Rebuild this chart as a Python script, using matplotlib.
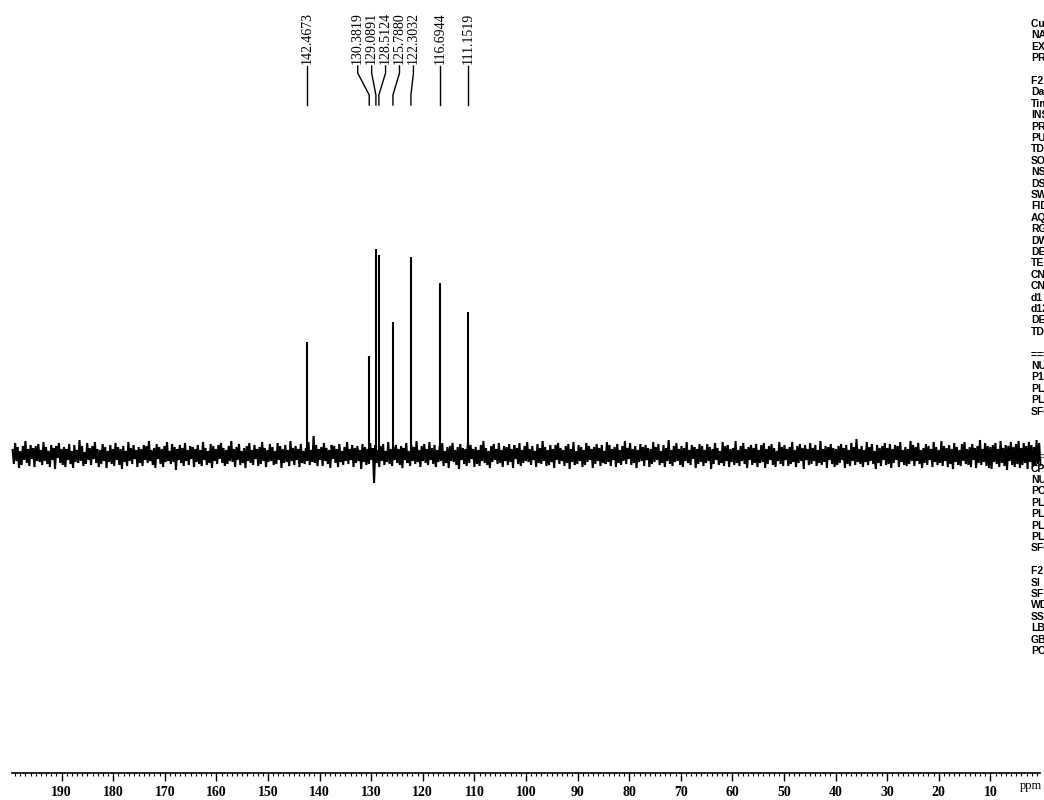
import numpy as np
import matplotlib
matplotlib.use("Agg")
import matplotlib.pyplot as plt
from matplotlib.ticker import FixedLocator

# 13C NMR peaks (ppm) and their heights (intensity units)
peak_ppm = [142.4673, 130.3819, 129.0891, 128.5124, 125.7880, 122.3032, 116.6944, 111.1519]
peak_height = [113, 99, 206, 200, 133, 198, 172, 143]

# baseline noise of the spectrum, sampled evenly from 199.5 to 0.3 ppm
noise = [
    5, -9, 12, -6, 8, -13, 4, -10, 9, -5, 14, -8, 6, -11, 10, -4, 7, -12, 9, -6,
    11, -7, 5, -10, 13, -6, 8, -9, 4, -12, 10, -5, 7, -14, 9, -3, 12, -8, 6, -10,
    8, -12, 6, -5, 11, -9, 4, -13, 10, -7, 5, -8, 15, -6, 9, -11, 3, -9, 12, -5,
    7, -10, 9, -4, 13, -8, 6, -12, 5, -9, 11, -6, 8, -13, 4, -7, 10, -9, 6, -11,
    12, -5, 8, -10, 6, -14, 9, -7, 4, -11, 13, -6, 7, -9, 10, -4, 5, -12, 8, -8,
    6, -11, 10, -5, 9, -8, 14, -6, 5, -10, 7, -13, 11, -4, 8, -9, 6, -12, 9, -7,
    13, -6, 4, -9, 11, -7, 8, -15, 6, -5, 10, -8, 7, -11, 12, -6, 5, -10, 9, -4,
    8, -12, 6, -7, 10, -9, 5, -11, 13, -5, 7, -10, 4, -8, 11, -13, 9, -6, 6, -9,
    10, -4, 12, -8, 7, -11, 5, -9, 9, -6, 14, -7, 6, -12, 8, -5, 11, -10, 4, -8,
    7, -13, 9, -6, 12, -8, 5, -10, 10, -4, 6, -11, 8, -9, 13, -6, 7, -12, 5, -7,
    11, -6, 8, -10, 4, -9, 12, -5, 9, -13, 6, -8, 10, -7, 5, -11, 14, -6, 7, -10,
    9, -5, 6, -12, 11, -8, 4, -9, 7, -6, 13, -10, 5, -7, 19, -8, 10, -11, 6, -5,
    8, -11, 12, -6, 7, -9, 5, -13, 10, -4, 9, -8, 6, -12, 11, -7, 4, -10, 8, -6,
    13, -9, 6, -5, 10, -12, 7, -8, 9, -6, 5, -14, 11, -7, 8, -10, 6, -9, 12, -5,
    7, -28, 10, -8, 5, -12, 9, -6, 11, -10, 4, -7, 13, -9, 6, -11, 8, -5, 10, -8,
    6, -10, 9, -13, 7, -5, 12, -8, 4, -11, 10, -6, 8, -9, 14, -7, 5, -12, 9, -6,
    11, -8, 6, -10, 13, -5, 7, -9, 10, -12, 5, -7, 9, -6, 12, -11, 4, -8, 8, -13,
    9, -6, 12, -7, 5, -10, 8, -14, 11, -5, 7, -9, 6, -11, 13, -8, 10, -4, 6, -12,
    8, -9, 5, -11, 10, -6, 14, -8, 7, -10, 4, -13, 9, -7, 11, -5, 6, -9, 12, -8,
    5, -12, 9, -6, 8, -10, 11, -7, 6, -13, 10, -4, 7, -9, 12, -11, 5, -8, 9, -6,
    13, -7, 6, -10, 9, -5, 4, -12, 11, -8, 7, -9, 14, -6, 8, -11, 5, -10, 10, -7,
    6, -13, 10, -5, 12, -9, 7, -6, 5, -11, 9, -8, 11, -14, 6, -7, 13, -10, 4, -9,
    10, -6, 8, -12, 5, -10, 12, -7, 9, -5, 6, -13, 8, -9, 11, -6, 7, -11, 10, -8,
    4, -9, 13, -7, 10, -11, 6, -5, 8, -12, 11, -8, 5, -10, 9, -6, 14, -9, 7, -4,
    12, -10, 6, -8, 9, -13, 5, -7, 11, -6, 8, -11, 10, -5, 7, -12, 6, -9, 13, -7,
    8, -5, 11, -10, 4, -8, 10, -12, 7, -6, 15, -9, 5, -11, 9, -7, 12, -6, 6, -10,
    9, -12, 7, -6, 13, -8, 5, -10, 10, -4, 8, -13, 6, -9, 11, -7, 9, -11, 5, -8,
    11, -6, 8, -14, 6, -9, 12, -5, 7, -10, 4, -8, 13, -11, 9, -6, 10, -12, 6, -7,
    7, -10, 14, -8, 5, -11, 9, -6, 12, -9, 6, -13, 8, -5, 10, -10, 7, -8, 11, -12,
    5, -8, 10, -7, 12, -13, 6, -9, 9, -5, 11, -10, 7, -12, 4, -6, 13, -9, 8, -11,
    10, -5, 6, -11, 8, -9, 13, -7, 5, -12, 9, -8, 11, -6, 7, -14, 10, -5, 6, -10,
    12, -9, 7, -6, 10, -11, 5, -8, 14, -10, 6, -7, 9, -13, 8, -5, 11, -9, 7, -12,
    6, -10, 9, -8, 11, -5, 7, -13, 10, -9, 5, -11, 12, -6, 8, -10, 16, -7, 6, -9,
    9, -12, 5, -7, 13, -10, 8, -6, 11, -9, 4, -14, 10, -8, 7, -11, 9, -5, 12, -10,
    7, -9, 11, -13, 6, -8, 10, -5, 9, -12, 13, -7, 5, -10, 8, -11, 6, -9, 14, -6,
    10, -11, 8, -6, 12, -9, 5, -13, 7, -8, 11, -10, 9, -5, 6, -12, 13, -7, 8, -10,
    5, -8, 14, -11, 9, -6, 7, -12, 10, -9, 6, -14, 12, -7, 8, -10, 5, -11, 11, -6,
    13, -9, 6, -10, 8, -12, 11, -5, 7, -13, 9, -8, 15, -10, 6, -7, 12, -11, 9, -13,
    8, -14, 10, -7, 12, -9, 6, -12, 14, -8, 7, -11, 10, -15, 9, -6, 13, -10, 8, -12,
    11, -9, 14, -13, 7, -10, 12, -8, 9, -14, 13, -7, 10, -12, 8, -11, 15, -9, 12, -10,
]

# chemical shift axis
tick_values = [190, 180, 170, 160, 150, 140, 130, 120, 110, 100, 90, 80, 70, 60, 50, 40, 30, 20, 10]
tick_labels = [str(v) for v in tick_values]
minor_values = list(range(1, 200))

# acquisition / processing parameter listing (only the start of each line shows)
param_lines = [
    "Current Data Parameters", "NAME", "EXPNO", "PROCNO", "",
    "F2 - Acquisition Parameters", "Date_", "Time", "INSTRUM", "PROBHD",
    "PULPROG", "TD", "SOLVENT", "NS", "DS", "SWH", "FIDRES", "AQ", "RG",
    "DW", "DE", "TE", "CNST2", "CNST11", "d1", "d12", "DELTA", "TD0", "",
    "======== CHANNEL f1 ========", "NUC1", "P1", "PL1", "PL1W", "SFO1", "", "", "",
    "======== CHANNEL f2 ========", "CPDPRG2", "NUC2", "PCPD2", "PL2", "PL12",
    "PL13", "PL2W", "SFO2", "",
    "F2 - Processing parameters", "SI", "SF", "WDW", "SSB", "LB", "GB", "PC",
]

W, H = 1044, 800
fig = plt.figure(figsize=(W / 100, H / 100), dpi=100)
fig.patch.set_facecolor("white")
ax = fig.add_axes([0, 0, 1, 1])
ax.set_facecolor("white")
ax.set_xlim(201.94, -0.39)
ax.set_ylim(-345, 455)

# spectrum: noisy baseline plus sharp lines
ppm_grid = np.linspace(199.5, 0.3, len(noise))
ax.plot(ppm_grid, noise, color="black", lw=1.5, solid_joinstyle="miter")
ax.vlines(peak_ppm, 0, peak_height, color="black", lw=1.5)

# spread peak labels so they do not overlap
gap = 2.7
order = np.argsort(peak_ppm)[::-1]
pos = np.array([peak_ppm[i] for i in order], dtype=float)
for _ in range(500):
    moved = False
    for k in range(len(pos) - 1):
        d = pos[k] - pos[k + 1]
        if d < gap - 1e-6:
            shift = (gap - d) / 2
            pos[k] += shift
            pos[k + 1] -= shift
            moved = True
    if not moved:
        break
label_x = np.empty(len(pos))
label_x[order] = pos

y_text, y_a, y_b, y_c, y_d = 391, 389, 382, 360, 350
for p, lx in zip(peak_ppm, label_x):
    ax.text(lx, y_text, f"{p:.4f}", rotation=90, ha="center", va="bottom",
            fontsize=10, family="Liberation Serif", color="black")
    ax.plot([lx, lx, p, p], [y_a, y_b, y_c, y_d], color="black", lw=1.0)

# ppm scale at the bottom
for side in ("left", "right", "top"):
    ax.spines[side].set_visible(False)
ax.spines["bottom"].set_position(("data", -318))
ax.spines["bottom"].set_bounds(0.4, 199.6)
ax.spines["bottom"].set_linewidth(1.2)
ax.xaxis.set_major_locator(FixedLocator(tick_values))
ax.set_xticklabels(tick_labels)
ax.xaxis.set_minor_locator(FixedLocator(minor_values))
ax.tick_params(axis="x", which="major", direction="out", length=6, width=1.0,
               pad=3, labelsize=10, labelcolor="black")
ax.tick_params(axis="x", which="minor", direction="out", length=2.5, width=0.8)
for lab in ax.get_xticklabels():
    lab.set_family("Liberation Serif")
    lab.set_fontweight("bold")
ax.set_yticks([])
fig.text(1031 / W, 1 - 786 / H, "ppm", ha="center", va="center",
         fontsize=9, family="Liberation Serif", color="black")

# parameter listing on the right edge
for i, line in enumerate(param_lines):
    if line:
        fig.text(1031 / W, 1 - (24 + i * 11.4) / H, line, ha="left", va="center",
                 fontsize=7.5, family="Liberation Sans", fontweight="bold", color="black")

fig.savefig("out.png", dpi=100, facecolor="white")
